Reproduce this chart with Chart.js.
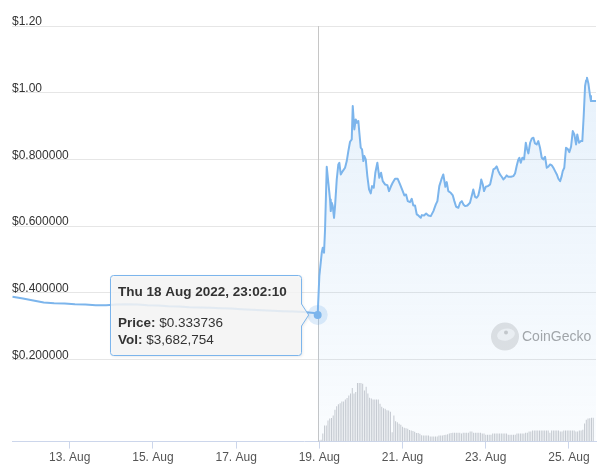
<!DOCTYPE html>
<html><head><meta charset="utf-8">
<script src="https://cdn.jsdelivr.net/npm/chart.js@4.4.1/dist/chart.umd.min.js"></script>
<style>html,body{margin:0;padding:0;background:#fff;}canvas{display:block;}</style>
</head><body>
<canvas id="c" width="604" height="471"></canvas>
<script>
// ---- data (time = hours relative to 19 Aug 2022 00:00) ----
const preHours = [-177,-171,-165,-159,-153,-147,-141,-135,-129,-123,-117,-111,-105,-99,-93,-87,-81,-75,-69,-63,-57,-51,-45,-39,-33,-27,-21,-15,-9,-3,-0.967];
const prePrices = [0.388,0.383,0.377,0.371,0.369,0.368,0.366,0.365,0.363,0.363,0.365,0.366,0.365,0.363,0.362,0.360,0.359,0.357,0.356,0.355,0.354,0.353,0.351,0.349,0.3475,0.346,0.345,0.344,0.3425,0.3395,0.333736];

const postHours = [-0.967,0,1.38,1.96,2.71,3.29,4.27,5.19,6.17,6.58,7.15,7.73,8.48,9.06,10.04,10.96,11.54,12.35,13.5,14.83,15.81,16.73,17.71,18.69,19.27,20.19,21.0,21.58,22.5,23.08,23.88,24.63,25.38,25.96,26.77,27.69,28.67,29.65,30.4,31.38,32.3,33.46,34.61,35.6,36.58,37.9,39.23,40.2,41.2,42.3,43.67,45.2,46.56,48.11,49.04,50.02,51.0,52.3,53.3,54.2,55.2,56.2,57.1,58.5,59.1,60.4,61.6,62.9,64.3,65.8,67.2,68.1,69.2,70.4,71.5,72.7,73.5,74.4,75.8,77.0,77.9,78.9,80.2,81.2,82.2,83.1,84.1,85.4,86.9,87.9,88.8,89.8,90.8,91.7,92.7,93.4,94.3,95.0,96.0,97.2,98.5,99.5,100.4,101.4,102.3,103.3,104.2,105.2,106.2,107.1,108.1,109.0,110.6,111.9,112.9,113.9,114.8,115.4,116.2,117.1,118.1,119.1,119.8,120.6,121.6,122.5,123.5,124.4,125.4,126.3,127.3,128.3,129.2,130.2,131.2,132.1,133.1,134.1,135.0,136.0,137.0,137.9,138.9,139.8,140.4,141.3,142.3,143.2,144.2,145.2,146.2,147.1,148.1,148.8,149.8,150.9,151.7,152.5,153.3,153.9,154.4,155.2,156.2,156.7,159.6];
const postPrices = [0.333736,0.450,0.520,0.535,0.520,0.590,0.778,0.730,0.680,0.645,0.670,0.660,0.625,0.660,0.740,0.785,0.790,0.755,0.765,0.775,0.795,0.825,0.853,0.860,0.960,0.890,0.920,0.910,0.915,0.880,0.835,0.830,0.795,0.810,0.800,0.750,0.710,0.698,0.720,0.715,0.760,0.790,0.745,0.760,0.735,0.725,0.723,0.705,0.718,0.730,0.742,0.742,0.725,0.705,0.692,0.695,0.675,0.672,0.682,0.662,0.662,0.635,0.632,0.625,0.633,0.632,0.638,0.632,0.630,0.645,0.665,0.675,0.720,0.740,0.755,0.718,0.732,0.705,0.700,0.692,0.675,0.658,0.655,0.670,0.675,0.665,0.660,0.662,0.670,0.690,0.710,0.688,0.685,0.692,0.715,0.740,0.725,0.705,0.718,0.720,0.725,0.748,0.770,0.773,0.779,0.765,0.755,0.748,0.740,0.745,0.752,0.748,0.748,0.750,0.758,0.782,0.800,0.805,0.790,0.805,0.800,0.850,0.832,0.818,0.850,0.862,0.865,0.848,0.845,0.855,0.835,0.805,0.800,0.808,0.775,0.778,0.785,0.782,0.775,0.765,0.755,0.742,0.735,0.750,0.765,0.775,0.835,0.832,0.822,0.838,0.885,0.875,0.845,0.875,0.850,0.855,0.855,0.930,1.020,1.037,1.045,1.028,0.990,0.975,0.975];

// hourly volume (USD millions), first bar at 19 Aug 00:00
const volStartHour = 0;
const volumesM = [4,7,29,58,58,76,83,85,94,115,127,134,138,144,144,151,157,166,173,193,173,178,211,211,211,208,184,197,173,158,155,151,151,151,151,136,125,120,118,113,112,107,34,94,73,70,64,61,53,50,48,46,42,40,38,35,31,31,28,23,22,22,22,22,18,18,18,18,18,22,22,22,24,25,26,29,31,32,32,32,32,32,29,
32,32,32,32,36,36,32,32,32,32,32,29,29,25,25,25,25,29,29,29,29,29,29,29,29,29,25,25,25,25,25,29,29,29,29,29,32,32,36,36,40,40,40,40,40,40,40,40,40,40,32,40,40,40,40,40,36,36,40,40,40,40,40,40,40,36,36,40,40,43,65,79,83,84,86,86];

const xTickHours = [-144,-96,-48,0,48,96,144];
const xTickLabels = ['13. Aug','15. Aug','17. Aug','19. Aug','21. Aug','23. Aug','25. Aug'];
const yTickValues = [0.2,0.4,0.6,0.8,1.0,1.2];

const hoverHour = -0.967;
const hoverPrice = 0.333736;
const hoverTitle = 'Thu 18 Aug 2022, 23:02:10';
const hoverPriceText = '$0.333736';
const hoverVolText = '$3,682,754';

// ---- chart ----
const FONT = '"Liberation Sans", Arial, Helvetica, sans-serif';
Chart.defaults.font.family = FONT;

const overlay = {
  id: 'overlay',
  beforeDatasetsDraw(chart) {
    const {ctx, chartArea: a, scales: {x}} = chart;
    ctx.save();
    // watermark
    const cx = a.right - 91, cy = a.bottom - 105;
    ctx.fillStyle = '#e2e2e2';
    ctx.beginPath(); ctx.arc(cx, cy, 14, 0, Math.PI * 2); ctx.fill();
    ctx.fillStyle = '#f3f3f3';
    ctx.beginPath(); ctx.ellipse(cx + 1, cy - 2, 9, 6, -0.2, 0, Math.PI * 2); ctx.fill();
    ctx.fillStyle = '#c8c8c8';
    ctx.beginPath(); ctx.arc(cx + 1, cy - 4, 2, 0, Math.PI * 2); ctx.fill();
    ctx.fillStyle = '#a4a4a4';
    ctx.font = '14px ' + FONT;
    ctx.textBaseline = 'middle';
    ctx.textAlign = 'left';
    ctx.fillText('CoinGecko', cx + 17, cy + 1);
    // crosshair
    const px = Math.round(x.getPixelForValue(hoverHour)) + 0.5;
    ctx.strokeStyle = '#c6c6c6';
    ctx.lineWidth = 1;
    ctx.beginPath(); ctx.moveTo(px, a.top); ctx.lineTo(px, a.bottom); ctx.stroke();
    ctx.restore();
  },
  afterDatasetsDraw(chart) {
    const {ctx, scales: {x, y}} = chart;
    const px = x.getPixelForValue(hoverHour), py = y.getPixelForValue(hoverPrice);
    ctx.save();
    ctx.fillStyle = 'rgba(124,181,236,0.25)';
    ctx.beginPath(); ctx.arc(px, py, 10, 0, Math.PI * 2); ctx.fill();
    ctx.fillStyle = '#7cb5ec';
    ctx.beginPath(); ctx.arc(px, py, 4, 0, Math.PI * 2); ctx.fill();

    const R = Math.round(px - 17) + 0.5, L = R - 191, T = Math.round(py - 40) + 0.5, B = T + 80;
    const ty = Math.round(py);
    ctx.beginPath();
    ctx.moveTo(L + 3, T); ctx.lineTo(R - 3, T); ctx.quadraticCurveTo(R, T, R, T + 3);
    ctx.lineTo(R, ty - 11); ctx.lineTo(px - 9, ty); ctx.lineTo(R, ty + 11);
    ctx.lineTo(R, B - 3); ctx.quadraticCurveTo(R, B, R - 3, B);
    ctx.lineTo(L + 3, B); ctx.quadraticCurveTo(L, B, L, B - 3);
    ctx.lineTo(L, T + 3); ctx.quadraticCurveTo(L, T, L + 3, T);
    ctx.closePath();
    ctx.shadowColor = 'rgba(0,0,0,0.12)'; ctx.shadowOffsetX = 1; ctx.shadowOffsetY = 1; ctx.shadowBlur = 3;
    ctx.fillStyle = 'rgba(247,247,247,0.85)';
    ctx.fill();
    ctx.shadowColor = 'transparent';
    ctx.strokeStyle = '#7cb5ec'; ctx.lineWidth = 1;
    ctx.stroke();

    ctx.fillStyle = '#333333';
    ctx.textBaseline = 'middle'; ctx.textAlign = 'left';
    const tx = L + 7.5;
    ctx.font = 'bold 13.5px ' + FONT;
    ctx.fillText(hoverTitle, tx, T + 17);
    ctx.fillText('Price:', tx, T + 48);
    let w = ctx.measureText('Price: ').width;
    ctx.fillText('Vol:', tx, T + 65);
    let w2 = ctx.measureText('Vol: ').width;
    ctx.font = '13.5px ' + FONT;
    ctx.fillText(hoverPriceText, tx + w, T + 48);
    ctx.fillText(hoverVolText, tx + w2, T + 65);
    ctx.restore();
  }
};

const preData = preHours.map((h, i) => ({x: h, y: prePrices[i]}));
const postData = postHours.map((h, i) => ({x: h, y: postPrices[i]}));
const volData = volumesM.map((v, i) => ({x: volStartHour + i, y: v}));

new Chart(document.getElementById('c'), {
  type: 'line',
  data: {
    datasets: [
      {type: 'bar', data: volData, xAxisID: 'x', yAxisID: 'yVol', backgroundColor: '#c4c9d0',
       barThickness: 1, borderWidth: 0, inflateAmount: 0, grouped: false},
      {data: preData, borderColor: '#7cb5ec', borderWidth: 2, pointRadius: 0, fill: false, tension: 0,
       borderJoinStyle: 'round', yAxisID: 'y'},
      {data: postData, borderColor: '#7cb5ec', borderWidth: 2, pointRadius: 0, tension: 0,
       borderJoinStyle: 'round', yAxisID: 'y', fill: 'start',
       backgroundColor: (c) => {
         const a = c.chart.chartArea;
         if (!a) return 'rgba(124,181,236,0.1)';
         const g = c.chart.ctx.createLinearGradient(0, a.top, 0, a.bottom);
         g.addColorStop(0, 'rgba(124,181,236,0.2)');
         g.addColorStop(1, 'rgba(124,181,236,0.04)');
         return g;
       }}
    ]
  },
  options: {
    responsive: false,
    animation: false,
    layout: {padding: {left: 12, right: 8, top: 26, bottom: 4}},
    plugins: {legend: {display: false}, tooltip: {enabled: false}},
    scales: {
      x: {
        type: 'linear', position: 'bottom', min: -177.3, max: 159.6, offset: false,
        afterBuildTicks: (s) => { s.ticks = xTickHours.map(v => ({value: v})); },
        ticks: {
          autoSkip: false, maxRotation: 0, padding: 2, color: '#555', font: {size: 12},
          callback: (v) => xTickLabels[xTickHours.indexOf(v)]
        },
        grid: {offset: false, drawOnChartArea: false, drawTicks: true, tickLength: 7, color: '#ccd6eb'},
        border: {display: true, color: '#ccd6eb', width: 1}
      },
      y: {
        type: 'linear', position: 'left', min: -0.046, max: 1.2,
        afterBuildTicks: (s) => { s.ticks = yTickValues.map(v => ({value: v})); },
        ticks: {
          mirror: true, padding: 0, labelOffset: -4, color: '#333', font: {size: 12},
          callback: (v) => v >= 1 ? '$' + v.toFixed(2) : '$' + v.toFixed(6)
        },
        grid: {color: '#e6e6e6', drawTicks: false},
        border: {display: false}
      },
      yVol: {type: 'linear', display: false, min: 0, max: 1495}
    }
  },
  plugins: [overlay]
});
</script>
</body></html>
